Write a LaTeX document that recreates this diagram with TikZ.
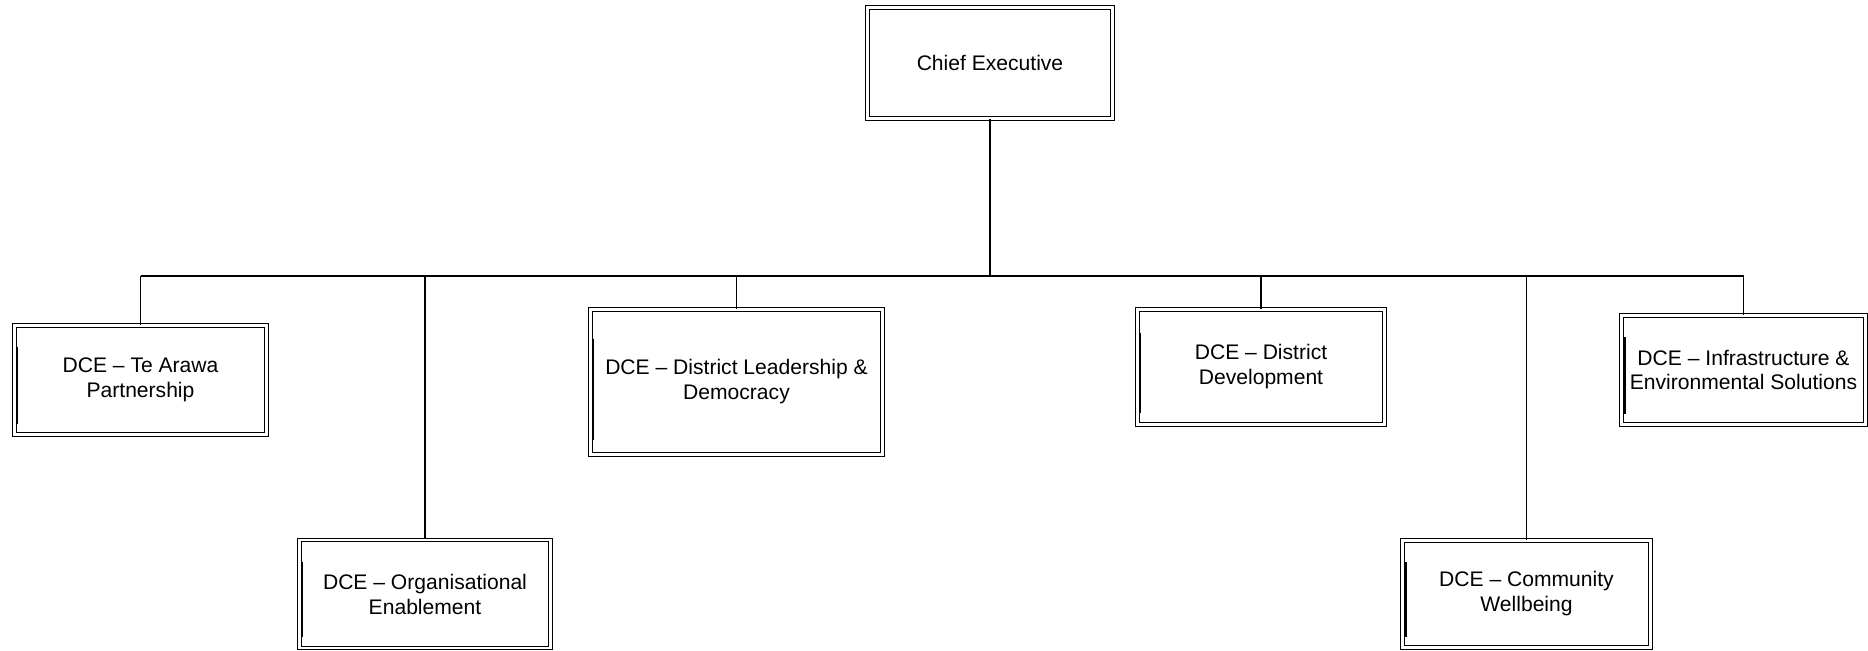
\documentclass[tikz,border=0pt]{standalone}
\usepackage{fontspec}
\setmainfont{Liberation Sans}
\usetikzlibrary{calc}

\begin{document}
\begin{tikzpicture}[x=0.02cm,y=-0.02cm,
  post/.style={draw,double,line width=0.6pt,double distance=1.6pt,
    align=center,inner sep=0pt,font=\fontsize{12}{14.2}\selectfont},
  dce/.style={post,
    path picture={\draw[line width=1.3pt]
      ($(path picture bounding box.north west)!0.2!(path picture bounding box.south west)+(1.6pt,0)$) --
      ($(path picture bounding box.north west)!0.9!(path picture bounding box.south west)+(1.6pt,0)$);}},
  link/.style={line width=0.75pt}]
\useasboundingbox (0,0) rectangle (1868,651);
% chief executive
\node[post,minimum width=4.9cm,minimum height=2.22cm] (ce) at (990,63) {Chief Executive};
% deputy chief executives
\node[dce,minimum width=5.04cm,minimum height=2.18cm] (tearawa) at (140.5,380) {DCE – Te Arawa\\Partnership};
\node[dce,minimum width=5.02cm,minimum height=2.16cm] (org) at (425,594) {DCE – Organisational\\Enablement};
\node[dce,minimum width=5.84cm,minimum height=2.9cm] (lead) at (736.5,382) {DCE – District Leadership \&\\Democracy};
\node[dce,minimum width=4.94cm,minimum height=2.3cm] (dev) at (1261,367) {DCE – District\\Development};
\node[dce,minimum width=4.88cm,minimum height=2.18cm] (infra) at (1743.5,370) {DCE – Infrastructure \&\\Environmental Solutions};
\node[dce,minimum width=4.96cm,minimum height=2.14cm] (comm) at (1526.5,594) {DCE – Community\\Wellbeing};
% lines
\coordinate (bus) at (990,276);
\draw[link,line width=1.6pt] (ce) -- (ce |- bus);
\draw[link] (tearawa.north |- bus) -- (infra.north |- bus);
\foreach \n in {tearawa,org,lead,dev,infra,comm}
  \draw[link] (\n.north |- bus) -- (\n.north);
\end{tikzpicture}
\end{document}
